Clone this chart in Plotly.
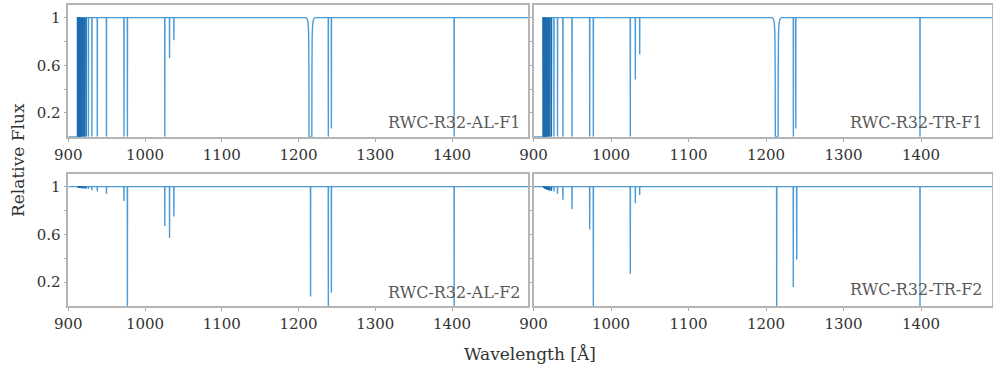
import plotly.graph_objects as go

# ---------------- data ----------------
panel_names = ["RWC-R32-AL-F1", "RWC-R32-TR-F1", "RWC-R32-AL-F2", "RWC-R32-TR-F2"]
x_tick_vals = [900, 1000, 1100, 1200, 1300, 1400]
x_tick_text = ["900", "1000", "1100", "1200", "1300", "1400"]
y_tick_vals = [0.2, 0.4, 0.6, 0.8, 1.0]
y_tick_text = ["0.2", "", "0.6", "", "1"]

# high-order Lyman lines crowding the Lyman limit (Angstrom)
lyman_high_wl = [923.15, 920.96, 919.35, 918.13, 917.18, 916.43, 915.82, 915.33,
                 914.92, 914.58, 914.29, 914.04, 913.83, 913.64, 913.48, 913.34,
                 913.21, 913.10, 913.00, 912.92, 912.84, 912.77]

# AL-F1
al_f1_limit = 911.75
al_f1_high_min = [0, 0, 0, 0, 0, 0, 0, 0, 0, 0, 0, 0, 0, 0, 0, 0, 0, 0, 0, 0, 0, 0]
al_f1_wl = [926.23, 930.75, 937.80, 949.74, 972.54, 977.02, 1025.72, 1031.93,
            1037.62, 1238.82, 1242.80, 1402.77]
al_f1_min = [0, 0, 0, 0, 0, 0, 0, 0.66, 0.81, 0, 0.07, 0]
al_f1_dla = 1215.5

# TR-F1
tr_f1_limit = 912.3
tr_f1_high_min = [0, 0, 0, 0, 0, 0, 0, 0, 0, 0, 0, 0, 0, 0, 0, 0, 0, 0, 0, 0, 0, 0]
tr_f1_wl = [926.4, 931.0, 937.9, 949.7, 972.5, 977.2, 1024.9, 1031.4, 1037.0,
            1235.3, 1238.4, 1398.7]
tr_f1_min = [0, 0, 0, 0, 0, 0, 0, 0.48, 0.69, 0, 0.07, 0]
tr_f1_dla = 1213.8

# AL-F2
al_f2_high_min = [0.985, 0.986, 0.987, 0.988, 0.989, 0.99, 0.99, 0.991, 0.992, 0.992,
                  0.993, 0.993, 0.994, 0.994, 0.995, 0.995, 0.996, 0.996, 0.997,
                  0.997, 0.998, 0.998]
al_f2_wl = [926.23, 930.75, 937.80, 949.74, 972.54, 977.02, 1025.72, 1031.93,
            1037.62, 1215.67, 1238.82, 1242.80, 1402.77]
al_f2_min = [0.98, 0.97, 0.96, 0.94, 0.88, 0, 0.67, 0.57, 0.75, 0.08, 0, 0.11, 0]

# TR-F2
tr_f2_high_min = [0.965, 0.968, 0.971, 0.974, 0.976, 0.978, 0.98, 0.982, 0.984, 0.986,
                  0.987, 0.988, 0.99, 0.991, 0.992, 0.993, 0.994, 0.995, 0.996,
                  0.997, 0.998, 0.999]
tr_f2_wl = [926.4, 931.0, 937.9, 949.7, 972.5, 977.2, 1024.9, 1031.4, 1037.0,
            1213.8, 1235.2, 1239.6, 1398.7]
tr_f2_min = [0.96, 0.94, 0.89, 0.81, 0.64, 0, 0.27, 0.86, 0.93, 0, 0.16, 0.39, 0]

# damped Lyman-alpha profile shape (offset from centre in Angstrom, flux)
dla_offset = [-6.0, -4.5, -3.5, -2.8, -2.3, -2.0, -1.8, 1.8, 2.0, 2.3, 2.8, 3.5, 4.5, 6.0]
dla_flux = [1.0, 0.99, 0.97, 0.93, 0.85, 0.6, 0.0, 0.0, 0.6, 0.85, 0.93, 0.97, 0.99, 1.0]

x_ranges = [[900, 1499], [900, 1491.6], [900, 1499], [900, 1491.6]]

# ---------------- build spectra ----------------
HW = 0.15  # half width of a narrow line (drawing only)


def build(limit, high_min, wl, fmin, dla, x_end):
    xs, ys = [], []
    if limit is not None:
        xs += [900, limit]
        ys += [0, 0]
        xs.append(limit + 0.02)
        ys.append(1)
    else:
        xs.append(900)
        ys.append(1)
    lines = sorted(list(zip(lyman_high_wl, high_min)) + list(zip(wl, fmin)))
    events = [(c, "n", d) for c, d in lines]
    if dla is not None:
        events.append((dla, "d", None))
    events.sort(key=lambda e: e[0])
    for c, kind, d in events:
        if kind == "n":
            xs += [c - HW, c, c + HW]
            ys += [1, d, 1]
        else:
            for o, f in zip(dla_offset, dla_flux):
                xs.append(c + o)
                ys.append(f)
    xs.append(x_end)
    ys.append(1)
    return xs, ys


def build_band(high_min):
    xs, ys = [], []
    for c, d in sorted(zip(lyman_high_wl, high_min)):
        xs += [c - HW, c, c + HW, None]
        ys += [1, d, 1, None]
    return xs, ys


spectra = [
    build(al_f1_limit, al_f1_high_min, al_f1_wl, al_f1_min, al_f1_dla, x_ranges[0][1]),
    build(tr_f1_limit, tr_f1_high_min, tr_f1_wl, tr_f1_min, tr_f1_dla, x_ranges[1][1]),
    build(None, al_f2_high_min, al_f2_wl, al_f2_min, None, x_ranges[2][1]),
    build(None, tr_f2_high_min, tr_f2_wl, tr_f2_min, None, x_ranges[3][1]),
]
bands = [build_band(al_f1_high_min), build_band(tr_f1_high_min),
         build_band(al_f2_high_min), build_band(tr_f2_high_min)]

# ---------------- figure ----------------
W, H = 993, 368
FONT = "DejaVu Serif"
LINE_COLOR = "#4c9bd6"
BAND_COLOR = "#1f6cad"

x_domains = [[68.3 / W, 528 / W], [533.5 / W, 992 / W]] * 2
y_domains = [[1 - 136.75 / H, 1 - 5 / H]] * 2 + [[1 - 306 / H, 1 - 174 / H]] * 2

fig = go.Figure()
layout = dict(
    width=W, height=H, margin=dict(l=0, r=0, t=0, b=0, autoexpand=False),
    paper_bgcolor="white", plot_bgcolor="white", showlegend=False,
    font=dict(family=FONT, size=15, color="#333333"),
)

annotations = []
label_pos = [(522, 122), (984, 122), (522, 292), (984, 289)]
for i in range(4):
    sx = "" if i == 0 else str(i + 1)
    xs, ys = spectra[i]
    fig.add_trace(go.Scatter(
        x=xs, y=ys, mode="lines", xaxis="x" + sx, yaxis="y" + sx,
        line=dict(color=LINE_COLOR, width=1.4, simplify=False),
        hoverinfo="skip"))
    bx, by = bands[i]
    fig.add_trace(go.Scatter(
        x=bx, y=by, mode="lines", xaxis="x" + sx, yaxis="y" + sx,
        line=dict(color=BAND_COLOR, width=1.2, simplify=False),
        hoverinfo="skip"))
    layout["xaxis" + sx] = dict(
        domain=x_domains[i], range=x_ranges[i], anchor="y" + sx, automargin=False,
        tickvals=x_tick_vals, ticktext=x_tick_text, ticks="outside", ticklen=3,
        tickcolor="#aaaaaa", showline=True, linecolor="#b5b5b5", linewidth=1.5,
        mirror=True, showgrid=False, zeroline=False,
        tickfont=dict(family=FONT, size=15, color="#333333"))
    layout["yaxis" + sx] = dict(
        domain=y_domains[i], range=[0, 1.106], anchor="x" + sx, automargin=False,
        tickvals=y_tick_vals, ticktext=y_tick_text if i % 2 == 0 else [""] * 5,
        ticks="outside", ticklen=3, tickcolor="#aaaaaa", showline=True,
        linecolor="#b5b5b5", linewidth=1.5, mirror=True, showgrid=False,
        zeroline=False, tickfont=dict(family=FONT, size=15, color="#333333"))
    px, py = label_pos[i]
    annotations.append(dict(
        text=panel_names[i], x=px / W, y=1 - py / H, xref="paper", yref="paper",
        xanchor="right", yanchor="middle", showarrow=False,
        font=dict(family=FONT, size=16, color="#5a5a5a")))

annotations.append(dict(
    text="Relative Flux", x=18 / W, y=1 - 160 / H, xref="paper", yref="paper",
    textangle=-90, xanchor="center", yanchor="middle", showarrow=False,
    font=dict(family=FONT, size=17, color="#333333")))
annotations.append(dict(
    text="Wavelength [Å]", x=530 / W, y=1 - 354 / H, xref="paper", yref="paper",
    xanchor="center", yanchor="middle", showarrow=False,
    font=dict(family=FONT, size=17, color="#333333")))
layout["annotations"] = annotations

fig.update_layout(**layout)
fig.write_html(
    "out.html",
    config={"displayModeBar": False},
    post_script="document.body.style.margin='0';document.body.style.overflow='hidden';",
)
